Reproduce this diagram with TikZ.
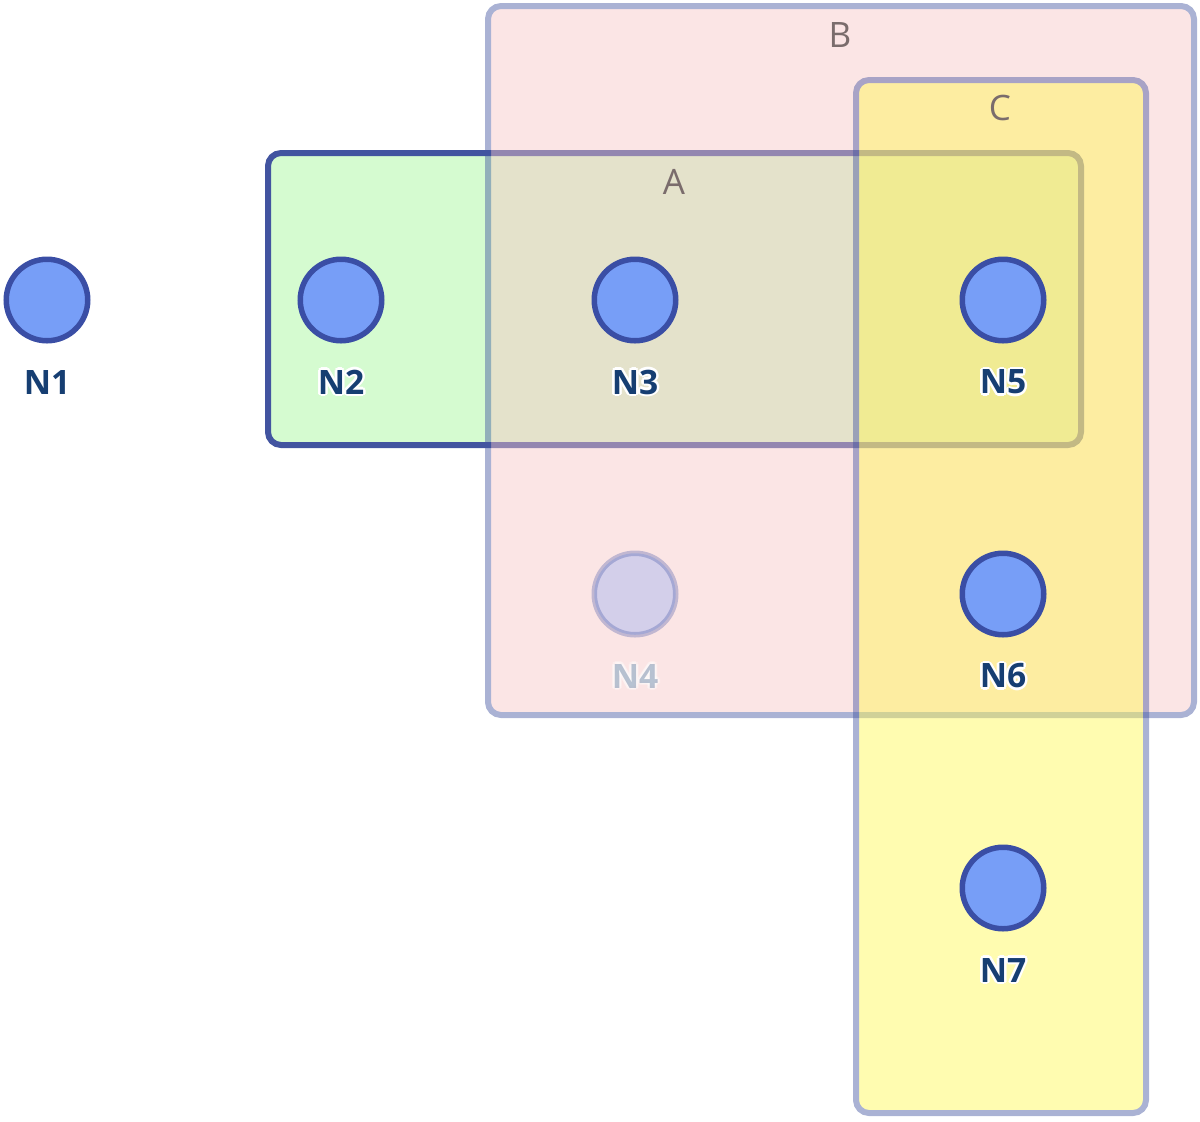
\documentclass[tikz,border=0pt]{standalone}
\usepackage{fontspec}
\setmainfont{Open Sans}
\usetikzlibrary{positioning}
\definecolor{vtxfill}{RGB}{119,158,247}
\definecolor{vtxline}{RGB}{58,78,165}
\definecolor{lbltext}{RGB}{22,62,114}
\definecolor{grpline}{RGB}{66,84,160}
\definecolor{grpAfill}{RGB}{213,251,208}
\definecolor{grpBfill}{RGB}{247,197,197}
\definecolor{grpCfill}{RGB}{255,248,79}
\definecolor{grptext}{RGB}{122,108,108}
% white outline round a label
\newcommand{\halo}[1]{\setbox0=\hbox{#1}%
  \rlap{\color{white}%
    \rlap{\kern1.3pt\copy0}\rlap{\kern-1.3pt\copy0}%
    \rlap{\raise1.3pt\copy0}\rlap{\lower1.3pt\copy0}%
    \rlap{\kern.9pt\raise.9pt\copy0}\rlap{\kern-.9pt\raise.9pt\copy0}%
    \rlap{\kern.9pt\lower.9pt\copy0}\rlap{\kern-.9pt\lower.9pt\copy0}}%
  \box0}

\begin{document}
\begin{tikzpicture}[x=0.5pt, y=-0.5pt, node distance=147pt, on grid,
  vtx/.style={circle, draw=vtxline, fill=vtxfill, line width=2.75pt, minimum size=40.75pt, inner sep=0pt},
  vtxlbl/.style={text=lbltext, font=\bfseries\fontsize{16.8}{18}\selectfont},
  grp/.style={draw=grpline, line width=3pt, rounded corners=6.5pt},
  grplbl/.style={text=grptext, font=\fontsize{17.5}{20}\selectfont},
  faded/.style={opacity=0.3}]
  \useasboundingbox (0,0) rectangle (1200,1121);

  % groups
  \draw[grp, fill=grpAfill] (268,153) rectangle (1081,445);
  \begin{scope}[transparency group, opacity=0.45]
    \draw[grp, fill=grpBfill] (488,6) rectangle (1194,715);
  \end{scope}
  \begin{scope}[transparency group, opacity=0.45]
    \draw[grp, fill=grpCfill] (856,80) rectangle (1146,1113);
  \end{scope}
  \node[grplbl] (lblA) at (674,182) {A};
  \node[grplbl] (lblB) at (840,35) {B};
  \node[grplbl] (lblC) at (1000,108) {C};

  % nodes
  \node[vtx] (N1) at (47,300) {};
  \node[vtx, right=of N1] (N2) {};
  \node[vtx, right=of N2] (N3) {};
  \node[vtx, faded, below=of N3] (N4) {};
  \node[vtx, right=184pt of N3] (N5) {};
  \node[vtx, below=of N5] (N6) {};
  \node[vtx, below=of N6] (N7) {};

  \node[vtxlbl, below=41pt of N1] (N1lbl) {\halo{N1}};
  \node[vtxlbl, below=41pt of N2] (N2lbl) {\halo{N2}};
  \node[vtxlbl, below=41pt of N3] (N3lbl) {\halo{N3}};
  \node[vtxlbl, faded, below=41pt of N4] (N4lbl) {\halo{N4}};
  \node[vtxlbl, below=41pt of N5] (N5lbl) {\halo{N5}};
  \node[vtxlbl, below=41pt of N6] (N6lbl) {\halo{N6}};
  \node[vtxlbl, below=41pt of N7] (N7lbl) {\halo{N7}};
\end{tikzpicture}
\end{document}
